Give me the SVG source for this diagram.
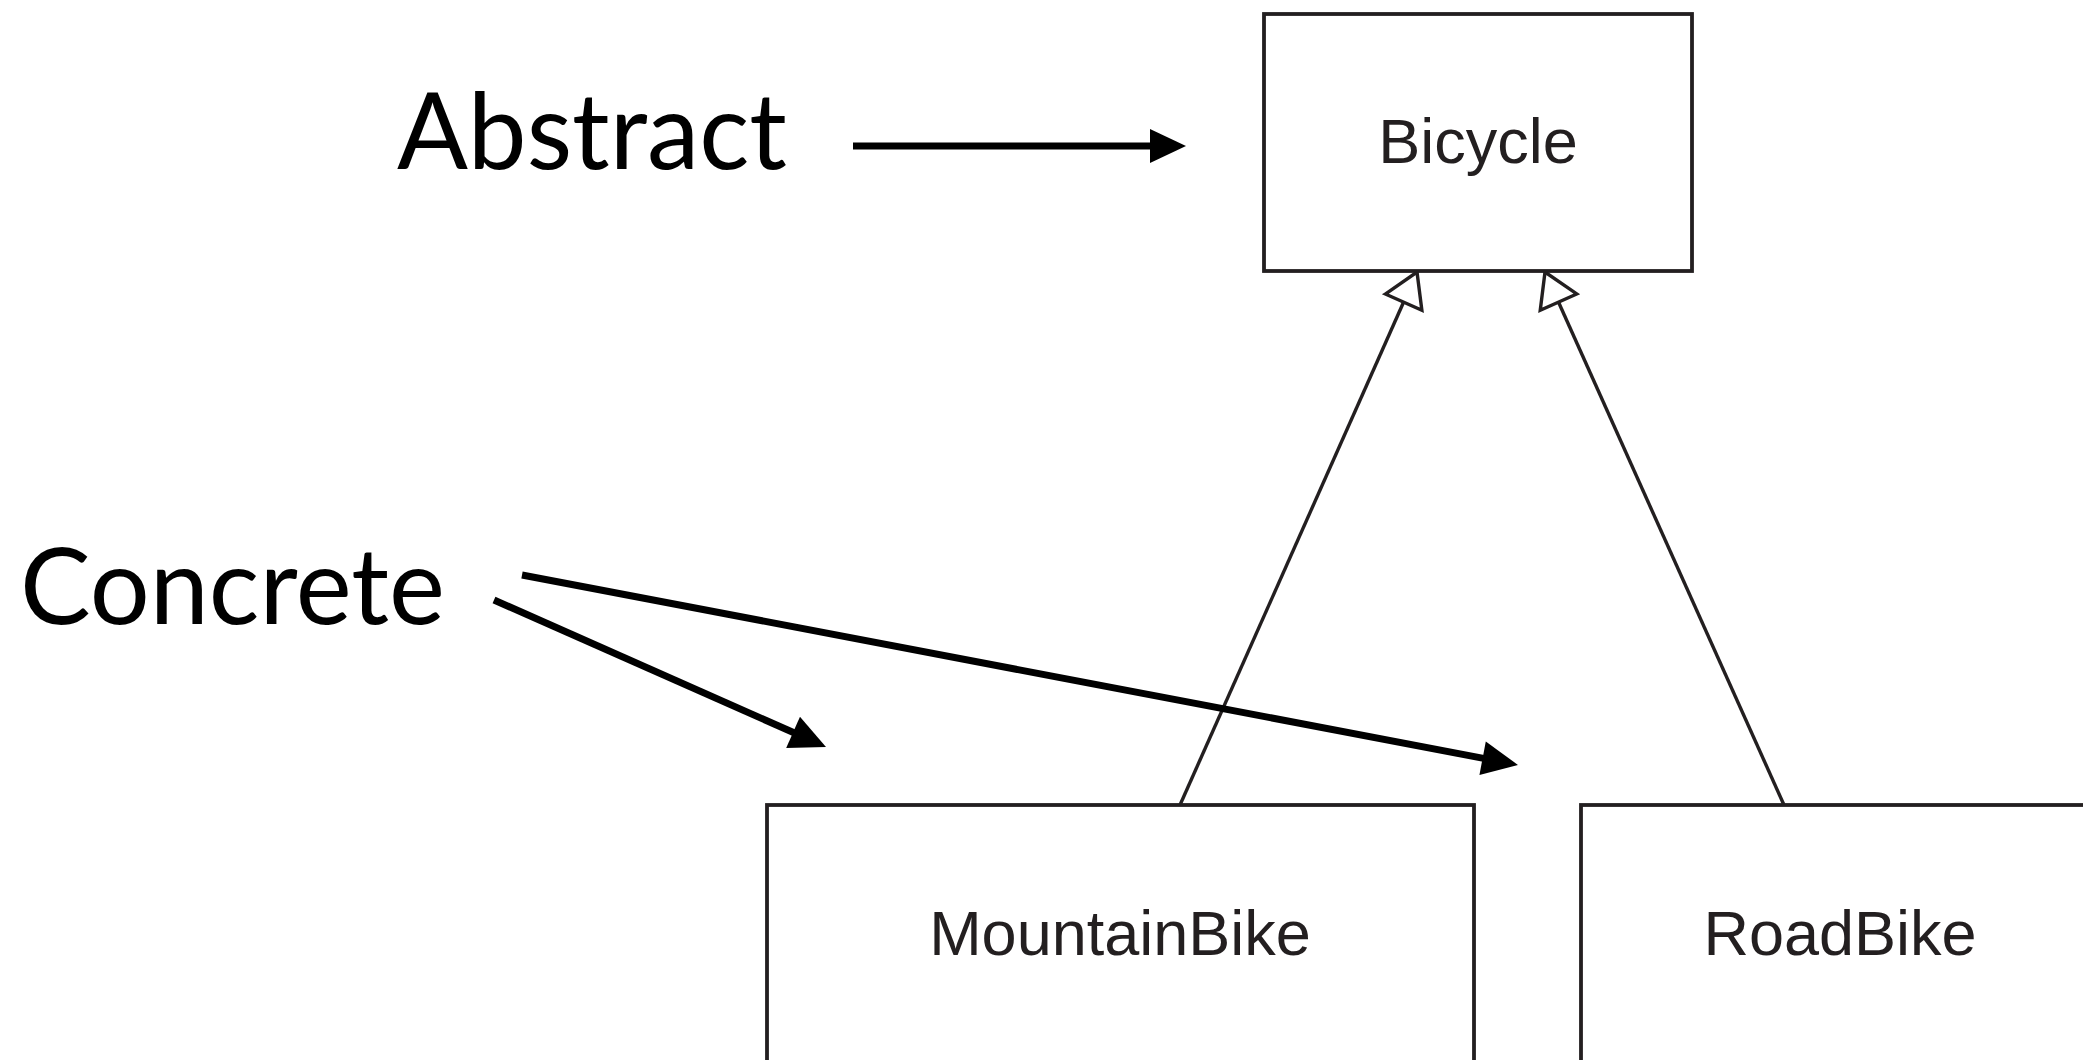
<svg xmlns="http://www.w3.org/2000/svg" width="2083" height="1060" viewBox="0 0 2083 1060">
  <style>
    .box { fill: #ffffff; stroke: #231f20; stroke-width: 3.8; }
    .ntext { font-family: "Liberation Sans", Arial, Helvetica, sans-serif; font-size: 63px; fill: #231f20; text-anchor: middle; }
    .label { font-family: Lato, "Noto Sans", sans-serif; font-size: 106px; fill: #000000; }
    .inherit { fill: none; stroke: #231f20; stroke-width: 3.4; }
    .pointer { fill: none; stroke: #000000; stroke-width: 7; }
  </style>
  <defs>
    <marker id="hollow" markerUnits="userSpaceOnUse" orient="auto" refX="33" refY="0" markerWidth="60" markerHeight="60" overflow="visible">
      <path d="M0,-20 L33,0 L0,20 Z" fill="#ffffff" stroke="#231f20" stroke-width="3.4"/>
    </marker>
    <marker id="solid" markerUnits="userSpaceOnUse" orient="auto" refX="0" refY="0" markerWidth="60" markerHeight="60" overflow="visible">
      <path d="M-1,-17 L35,0 L-1,17 Z" fill="#000000"/>
    </marker>
  </defs>

  <rect width="2083" height="1060" fill="#ffffff"/>

  <g id="connectors">
    <line class="inherit" x1="1180" y1="805" x2="1417" y2="272" marker-end="url(#hollow)"/>
    <line class="inherit" x1="1784" y1="805" x2="1545" y2="272" marker-end="url(#hollow)"/>
    <line class="pointer" x1="853" y1="146" x2="1151" y2="146" marker-end="url(#solid)"/>
    <line class="pointer" x1="494" y1="600" x2="794" y2="732.8" marker-end="url(#solid)"/>
    <line class="pointer" x1="522" y1="575" x2="1483.6" y2="758.4" marker-end="url(#solid)"/>
  </g>

  <g id="bicycle">
    <rect class="box" x="1264" y="14" width="428" height="257"/>
    <text class="ntext" x="1478" y="163">Bicycle</text>
  </g>

  <g id="mountainbike">
    <rect class="box" x="767" y="805" width="707" height="300"/>
    <text class="ntext" x="1120" y="955">MountainBike</text>
  </g>

  <g id="roadbike">
    <rect class="box" x="1581" y="805" width="600" height="300"/>
    <text class="ntext" x="1840" y="955">RoadBike</text>
  </g>

  <g id="label-abstract">
    <text class="label" x="397" y="169" textLength="390" lengthAdjust="spacingAndGlyphs">Abstract</text>
  </g>

  <g id="label-concrete">
    <text class="label" x="20" y="624" textLength="425" lengthAdjust="spacingAndGlyphs">Concrete</text>
  </g>
</svg>
